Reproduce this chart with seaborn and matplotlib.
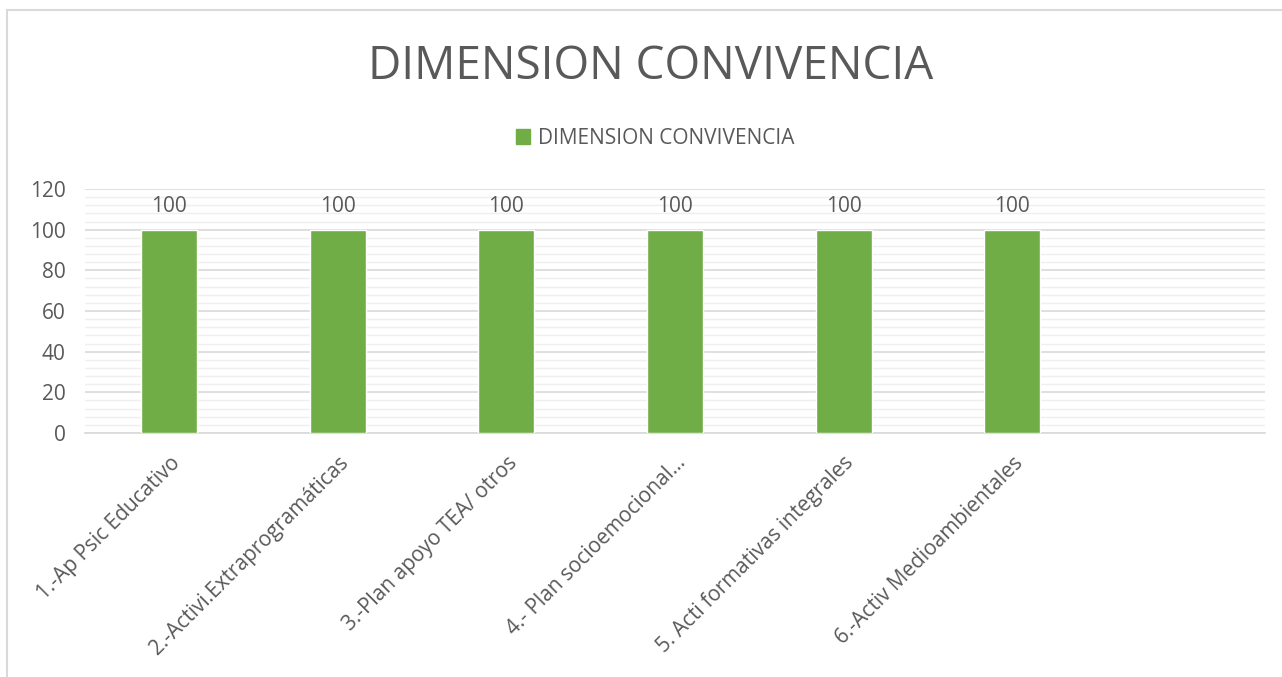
import matplotlib
matplotlib.use("Agg")
import matplotlib.pyplot as plt
from matplotlib.lines import Line2D
from matplotlib.patches import Patch
from matplotlib.ticker import MultipleLocator
import seaborn as sns
import pandas as pd

title = "DIMENSION CONVIVENCIA"
series_name = "DIMENSION CONVIVENCIA"
categories = [
    "1.-Ap Psic Educativo",
    "2.-Activi.Extraprogramáticas",
    "3.-Plan apoyo TEA/ otros",
    "4.- Plan socioemocional…",
    "5. Acti formativas integrales",
    "6.-Activ Medioambientales",
]
values = [100, 100, 100, 100, 100, 100]
yticks = [0, 20, 40, 60, 80, 100, 120]

GREEN = "#70AD47"
TEXT = "#595959"
GRID = "#D9D9D9"
MINOR = "#EFEFEF"

sns.set_theme(style="white")
plt.rcParams["font.family"] = ["Open Sans", "DejaVu Sans"]

df = pd.DataFrame({"cat": categories, "val": values})

fig = plt.figure(figsize=(12.82, 6.77), dpi=100)
ax = fig.add_axes([85/1282, 1-433/677, (1265-85)/1282, (433-189)/677])

sns.barplot(data=df, x="cat", y="val", order=categories, color=GREEN,
            width=0.332, saturation=1, ax=ax, zorder=3)

ax.set_xlim(-0.5, 6.5)
ax.set_ylim(0, 120)
ax.set_yticks(yticks)
ax.yaxis.set_minor_locator(MultipleLocator(4))
ax.grid(axis="y", which="major", color=GRID, linewidth=1.2, zorder=0)
ax.grid(axis="y", which="minor", color=MINOR, linewidth=1.0, zorder=0)
ax.set_axisbelow(True)
for s in ["top", "right", "left"]:
    ax.spines[s].set_visible(False)
ax.spines["bottom"].set_color(GRID)
ax.spines["bottom"].set_linewidth(1.2)
ax.set_xlabel("")
ax.set_ylabel("")
ax.tick_params(axis="both", which="both", length=0, colors=TEXT, labelsize=15)
ax.tick_params(axis="y", pad=14)
ax.tick_params(axis="x", pad=14)
for lbl in ax.get_xticklabels():
    lbl.set_rotation(45)
    lbl.set_ha("right")
    lbl.set_va("top")
    lbl.set_rotation_mode("anchor")

for c in ax.containers:
    ax.bar_label(c, labels=[str(v) for v in values], padding=9, color=TEXT, fontsize=15)

fig.text(651/1282, 1-67/677, title, ha="center", va="center", fontsize=33, color=TEXT)

handles = [Patch(facecolor=GREEN, edgecolor=GREEN, label=series_name)]
fig.legend(handles=handles, loc="center", bbox_to_anchor=(655/1282, 1-138/677),
           frameon=False, fontsize=15, labelcolor=TEXT, handlelength=0.7,
           handleheight=0.7, handletextpad=0.35)

fig.add_artist(Line2D([7/1282, 7/1282], [0, 1-10/677], transform=fig.transFigure,
                      color=GRID, linewidth=1.5))
fig.add_artist(Line2D([7/1282, 1], [1-10/677, 1-10/677], transform=fig.transFigure,
                      color=GRID, linewidth=1.5))

fig.savefig("out.png", dpi=100, facecolor="white")
